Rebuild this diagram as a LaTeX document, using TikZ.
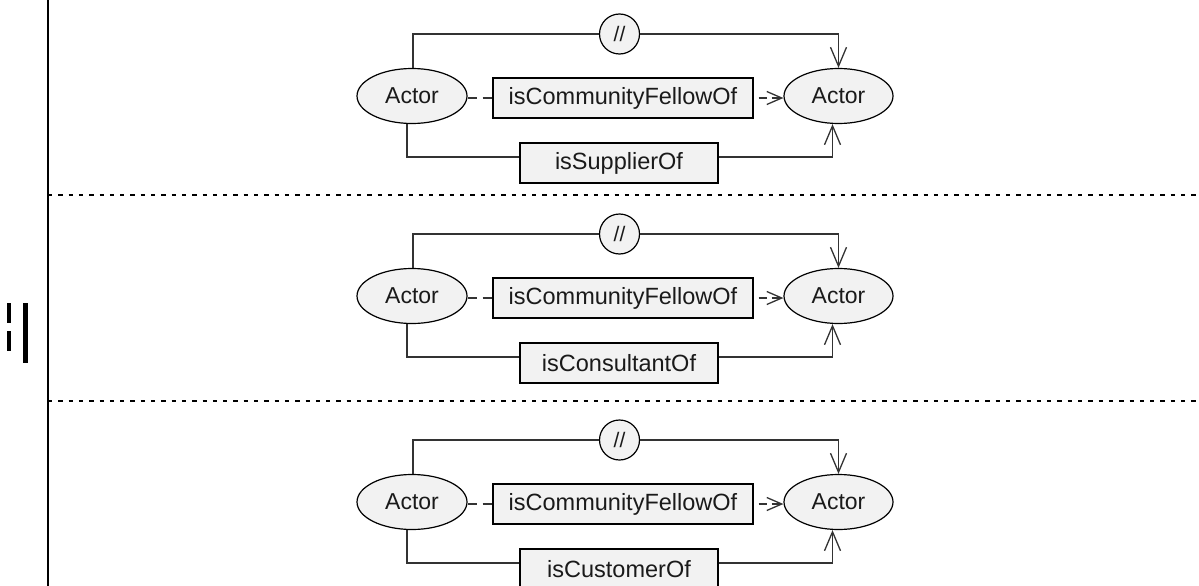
\documentclass[tikz,border=0pt]{standalone}
\usepackage{fontspec}
\setmainfont{Liberation Sans}
\usetikzlibrary{arrows.meta,shapes.geometric,calc}
\definecolor{shapefill}{RGB}{242,242,242}
\definecolor{linegray}{RGB}{51,51,51}
\definecolor{textgray}{RGB}{26,26,26}
\begin{document}
\begin{tikzpicture}[x=1pt,y=-1pt,
  actor/.style={ellipse,draw=black,fill=shapefill,line width=1.2pt,minimum width=110pt,minimum height=55pt,inner sep=0pt,text=textgray,font=\fontsize{23}{27}\selectfont},
  relbox/.style={rectangle,draw=black,fill=shapefill,line width=1.2pt,minimum height=40pt,inner sep=0pt,text=textgray,font=\fontsize{23.5}{27}\selectfont},
  notc/.style={circle,draw=black,fill=shapefill,line width=1.2pt,minimum size=40pt,inner sep=0pt,text=textgray,font=\fontsize{21}{24}\selectfont},
  conn/.style={draw=linegray,line width=1.3pt},
  tip/.style={-{Straight Barb[length=19pt,width=16pt,line width=1.3pt]}},
  smalltip/.style={-{Straight Barb[length=15pt,width=13pt,line width=1.3pt]}},
  sep/.style={draw=black,line width=2pt,dash pattern=on 4.3pt off 6pt},
  bar/.style={fill=black,draw=none}]
\useasboundingbox (0,0) rectangle (1199,586);
% left vertical border
\coordinate (vtop) at (48,0);
\coordinate (vbot) at (48,586);
\draw[black,line width=2pt] (vtop) -- (vbot);
% separators
\coordinate (s1a) at (48,195);
\coordinate (s1b) at (1199,195);
\coordinate (s2a) at (48,401);
\coordinate (s2b) at (1199,401);
\draw[sep] (s1a) -- (s1b);
\draw[sep] (s2a) -- (s2b);
% parallel symbol
\fill[bar] (6.7,303) rectangle (10.7,322.7);
\fill[bar] (6.7,331) rectangle (10.7,351);
\fill[bar] (22.7,303) rectangle (28,363);
% panels
\foreach \i/\oy/\lab in {1/0/isSupplierOf,2/200/isConsultantOf,3/406/isCustomerOf}{
  \node[actor] (L\i) at (412,{96+\oy}) {Actor};
  \node[actor,minimum width=109pt] (R\i) at (838.5,{96+\oy}) {Actor};
  \node[relbox,minimum width=260pt] (M\i) at (623,{98+\oy}) {isCommunityFellowOf};
  \node[relbox,minimum width=198pt] (B\i) at (619,{163+\oy}) {\lab};
  \node[notc] (C\i) at (619.5,{34+\oy}) {//};
  % top path through the circle
  \draw[conn] ($(L\i.north)+(1,0)$) |- (C\i.west);
  \draw[conn,tip] (C\i.east) -| (R\i.north);
  % middle dashed
  \draw[conn,dash pattern=on 9pt off 6pt] (L\i.east |- M\i.west) -- (M\i.west);
  \draw[conn,smalltip,dash pattern=on 8pt off 5pt,dash phase=8pt] (M\i.east) -- (R\i.west |- M\i.east);
  % bottom path
  \draw[conn] ($(L\i.south)+(-5,0)$) |- ([yshift=6pt]B\i.west);
  \draw[conn,tip] ([yshift=6pt]B\i.east) -| ($(R\i.south)+(-6,0)$);
}
\end{tikzpicture}
\end{document}
